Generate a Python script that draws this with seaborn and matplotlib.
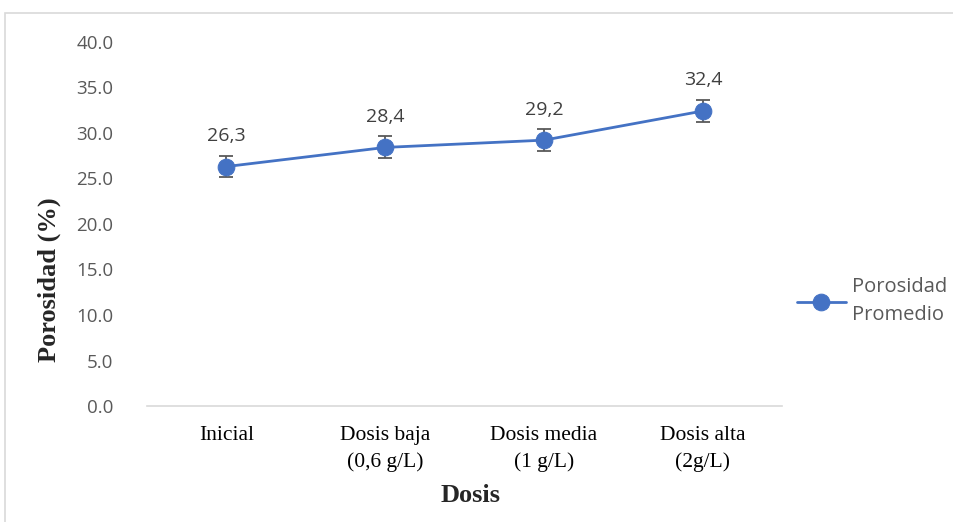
import matplotlib
matplotlib.use("Agg")
import matplotlib.pyplot as plt
import numpy as np
import pandas as pd
import seaborn as sns
from matplotlib.patches import Rectangle

categories = ["Inicial", "Dosis baja\n(0,6 g/L)", "Dosis media\n(1 g/L)", "Dosis alta\n(2g/L)"]
porosidad = [26.3, 28.4, 29.2, 32.4]
error = [1.2, 1.2, 1.2, 1.2]
labels = ["26,3", "28,4", "29,2", "32,4"]
yticks = [0, 5, 10, 15, 20, 25, 30, 35, 40]

sns.set_style("white")
plt.rcParams["font.family"] = ["Open Sans", "DejaVu Sans"]

df = pd.DataFrame({"pos": np.arange(len(categories)), "valor": porosidad})

fig = plt.figure(figsize=(9.54, 5.22), dpi=100)
ax = fig.add_axes([0.154, 0.222, 0.666, 0.698])

blue = "#4472C4"
ax.errorbar(df["pos"], df["valor"], yerr=error, fmt="none", ecolor="#595959",
            elinewidth=1.3, capsize=5, capthick=1.3, zorder=2)
sns.lineplot(data=df, x="pos", y="valor", ax=ax, color=blue, linewidth=2,
             marker="o", markersize=12, markeredgecolor=blue,
             label="Porosidad\nPromedio", zorder=3)

for x, y, t in zip(df["pos"], df["valor"], labels):
    ax.annotate(t, (x, y), xytext=(0, 22), textcoords="offset points",
                ha="center", va="center", fontsize=14, color="#404040")

ax.set_xlim(-0.5, len(categories) - 0.5)
ax.set_ylim(0, 40)
ax.set_yticks(yticks)
ax.set_yticklabels([f"{v:.1f}" for v in yticks], fontsize=13.5, color="#595959")
ax.set_xticks(df["pos"])
ax.set_xticklabels(categories, fontsize=15.5, family="Liberation Serif", color="black",
                   linespacing=1.55)
ax.tick_params(axis="x", length=0, pad=14)
ax.tick_params(axis="y", length=0, pad=24)

for s in ["top", "right", "left"]:
    ax.spines[s].set_visible(False)
ax.spines["bottom"].set_color("#D9D9D9")
ax.spines["bottom"].set_linewidth(1.2)

ax.set_xlabel("Dosis", fontsize=19, fontweight="bold", family="Liberation Serif")
ax.set_ylabel("Porosidad (%)", fontsize=19, fontweight="bold", family="Liberation Serif")
ax.xaxis.set_label_coords(0.509, -0.215)
ax.yaxis.set_label_coords(-0.136, 0.346)

leg = ax.legend(loc="center left", bbox_to_anchor=(0.995, 0.288), frameon=False,
                fontsize=14.5, handlelength=2.4, handletextpad=0.3,
                labelcolor="#595959")
for t in leg.get_texts():
    t.set_linespacing(1.55)

fig.patches.append(Rectangle((5 / 954, -0.01), 1.0, 1 - 13 / 522 + 0.01,
                             transform=fig.transFigure, fill=False,
                             edgecolor="#D9D9D9", linewidth=1.2))

fig.savefig("out.png", dpi=100)
